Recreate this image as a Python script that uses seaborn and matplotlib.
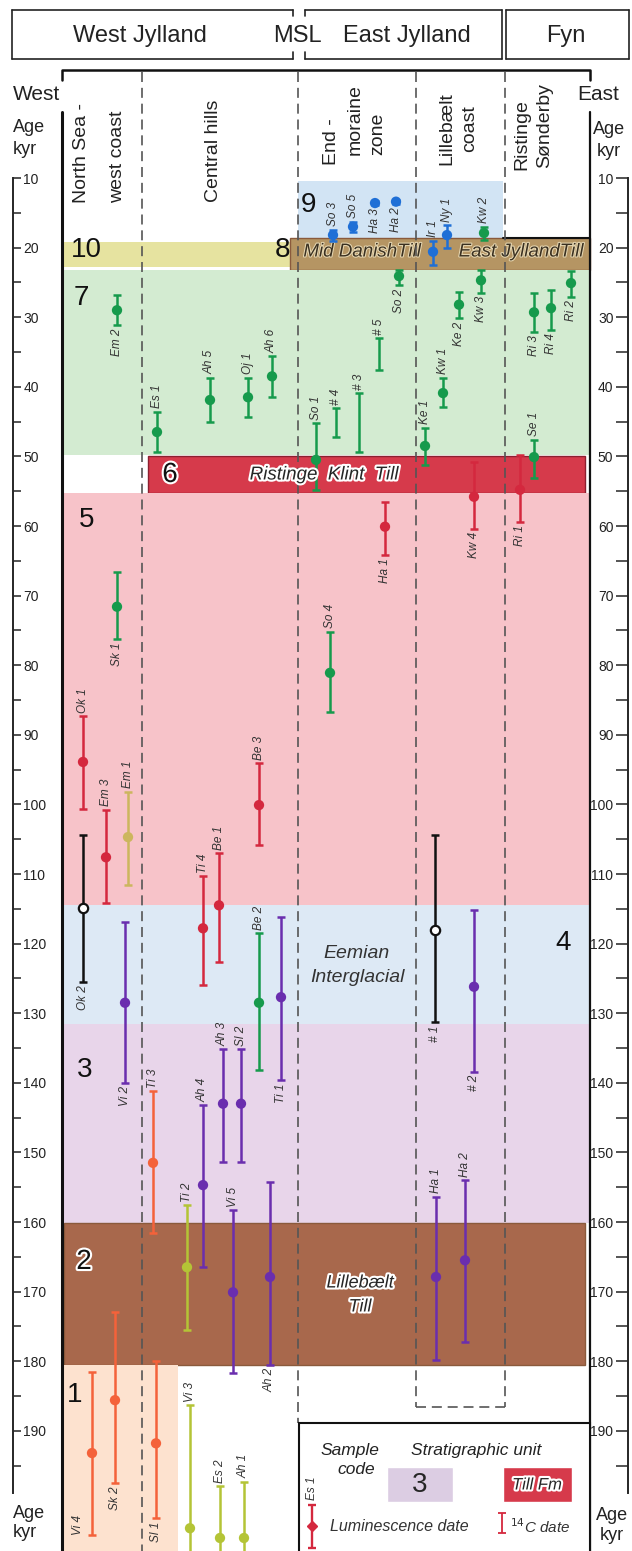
import numpy as np
import pandas as pd
import seaborn as sns
import matplotlib.pyplot as plt
from matplotlib.patches import Rectangle
import matplotlib.patheffects as pe

sns.set_style("white")
plt.rcParams["font.family"] = ["Liberation Sans", "DejaVu Sans"]

W, H = 632, 1551


def yv(py):
    # pixel row of the sheet -> age value on the shared vertical axis (kyr)
    return 10 + (py - 178) / 6.96


# --- Samples (code, transect position, age, error range) ---
codes = ["So 3", "So 5", "Ha 3", "Ha 2", "Ir 1", "Ny 1", "Kw 2",
         "Em 2", "Es 1", "Ah 5", "Oj 1", "Ah 6", "So 1", "# 4", "# 3", "# 5",
         "So 2", "Ke 1", "Kw 1", "Ke 2", "Kw 3", "Ri 3", "Ri 4", "Ri 2", "Se 1",
         "Ha 1", "Kw 4", "Ri 1", "Sk 1", "So 4", "Ok 1", "Em 3", "Em 1", "Ok 2",
         "Vi 2", "Ti 4", "Be 1", "Be 3", "Be 2", "Ti 1", "# 1", "# 2",
         "Ti 3", "Ah 4", "Ah 3", "Sl 2", "Ti 2", "Vi 5", "Ah 2", "Ha 1", "Ha 2",
         "Vi 4", "Sk 2", "Sl 1", "Vi 3", "Es 2", "Ah 1"]
xpos = [333, 353, 375, 396, 433, 447, 484,
        117, 157, 210, 248, 272, 316, 336, 359, 379,
        399, 425, 443, 459, 481, 534, 551, 571, 534,
        385, 474, 520, 117, 330, 83, 106, 128, 83,
        125, 203, 219, 259, 259, 281, 435, 474,
        153, 203, 223, 241, 187, 233, 270, 436, 465,
        92, 115, 156, 190, 220, 244]
age = [18.2, 17.0, 13.6, 13.4, 20.6, 18.2, 17.9,
       29.0, 46.5, 41.9, 41.5, 38.5, 50.5, np.nan, np.nan, np.nan,
       24.1, 48.5, 40.9, 28.2, 24.7, 29.3, 28.7, 25.1, 50.1,
       60.1, 55.8, 54.8, 71.6, 81.1, 93.9, 107.6, 104.7, 114.9,
       128.5, 117.8, 114.5, 100.1, 128.5, 127.7, 118.1, 126.2,
       151.5, 154.7, 143.0, 143.0, 166.5, 170.1, 167.9, 167.9, 165.5,
       193.2, 185.6, 191.8, 204.0, 205.4, 205.4]
age_min = [17.4, 16.3, 13.3, 13.1, 19.0, 16.8, 17.0,
           26.8, 43.6, 38.7, 38.7, 35.6, 45.2, 43.1, 40.9, 33.0,
           23.2, 45.9, 38.7, 26.4, 23.2, 26.5, 26.1, 23.3, 47.6,
           56.5, 50.8, 49.8, 66.6, 75.2, 87.3, 100.8, 98.2, 104.4,
           116.9, 110.3, 107.0, 94.1, 118.5, 116.2, 104.4, 115.2,
           141.2, 143.2, 135.2, 135.2, 157.6, 158.3, 154.2, 156.4, 154.0,
           181.5, 173.0, 180.0, 186.3, 198.0, 197.3]
age_max = [19.0, 17.8, 13.9, 13.7, 22.5, 20.0, 18.9,
           31.1, 49.4, 45.0, 44.3, 41.5, 54.8, 47.2, 49.4, 37.6,
           25.4, 51.2, 42.9, 30.1, 26.5, 32.1, 31.8, 27.1, 53.1,
           64.2, 60.4, 59.4, 76.2, 86.7, 100.7, 114.2, 111.6, 125.5,
           140.0, 125.9, 122.6, 105.8, 138.2, 139.6, 131.3, 138.4,
           161.6, 166.5, 151.4, 151.4, 175.5, 181.7, 180.5, 179.8, 177.2,
           205.0, 197.5, 202.5, 209.0, 209.0, 209.0]
group = (["blue"] * 6 + ["green"] * 19 +
         ["red", "red", "red", "green", "green", "red", "red", "khaki", "black",
          "purple", "red", "red", "red", "green", "purple", "black", "purple",
          "orange", "purple", "purple", "purple", "lime", "purple", "purple", "purple", "purple",
          "orange", "orange", "orange", "lime", "lime", "lime"])
method = ["lum"] * 13 + ["14c"] * 3 + ["lum"] * 17 + ["open"] + ["lum"] * 6 + ["open"] + ["lum"] * 16
side = ["above", "above", "below", "below", "above", "above", "above",
        "below", "above", "above", "above", "above", "above", "above", "above", "above",
        "below", "above", "above", "below", "below", "below", "below", "below", "above",
        "below", "below", "below", "below", "above", "above", "above", "above", "below",
        "below", "above", "above", "above", "above", "below", "below", "below",
        "above", "above", "above", "above", "above", "above", "below", "above", "above",
        "left", "below", "below", "above", "above", "above"]

palette = {"blue": "#1f6fd6", "green": "#169a4c", "red": "#d4283e", "orange": "#f4623a",
           "lime": "#b4c436", "khaki": "#ccb65e", "purple": "#6a2eae", "black": "#111111"}

df = pd.DataFrame({"code": codes, "x": xpos, "age": age, "amin": age_min, "amax": age_max,
                   "group": group, "method": method, "side": side})

# --- Stratigraphic units ---
units = ["9", "10", "8", "7", "6", "5", "4", "3", "2", "1"]
unit_top = [10.5, 19.2, 18.6, 23.2, 50.0, 55.2, 114.5, 131.5, 160.1, 180.5]
unit_bot = [18.6, 22.8, 23.2, 49.8, 55.2, 114.5, 131.5, 160.1, 180.5, 207.5]
unit_colour = ["#d2e4f4", "#e6e3a0", "#b59563", "#d3ebd1", "#d63a4b",
               "#f7c3c9", "#dde9f5", "#e8d5ea", "#a8684c", "#fde2cf"]
unit_extent = [(298, 503), (62, 290), (290, 590), (62, 590), (148, 585),
               (62, 590), (62, 590), (62, 590), (64, 585), (62, 178)]
unit_label_pos = [(308, 205), (86, 250), (283, 250), (81, 298), (170, 475),
                  (87, 520), (563, 943), (85, 1070), (84, 1262), (75, 1395)]

fig = plt.figure(figsize=(W / 100, H / 100), dpi=100)
ax = fig.add_axes([0, 0, 1, 1])

halo = [pe.withStroke(linewidth=3, foreground="white")]

for u, t, b, c, (x0, x1) in zip(units, unit_top, unit_bot, unit_colour, unit_extent):
    edge = "#8c2030" if u == "6" else ("#8a5a3c" if u in ("2", "8") else "none")
    ax.add_patch(Rectangle((x0, t), x1 - x0, b - t, facecolor=c, edgecolor=edge,
                           lw=1, zorder=0))
for u, (lx, ly) in zip(units, unit_label_pos):
    ax.text(lx, yv(ly), u, fontsize=20, ha="center", va="center", color="#111",
            path_effects=halo if u in ("2", "6") else None, zorder=6)

ax.plot([503, 590], [unit_top[2], unit_top[2]], color="#111", lw=1.5, zorder=1)

# unit names
ax.text(324, yv(475), "Ristinge  Klint  Till", style="italic", fontsize=13.5,
        ha="center", va="center", path_effects=halo, zorder=6)
ax.text(357, yv(953), "Eemian", style="italic", fontsize=14, ha="center", va="center", color="#333")
ax.text(357, yv(977), "Interglacial", style="italic", fontsize=14, ha="center", va="center", color="#333")
ax.text(360, yv(1283), "Lillebælt", style="italic", fontsize=13, ha="center", va="center",
        path_effects=halo, zorder=6)
ax.text(360, yv(1307), "Till", style="italic", fontsize=13, ha="center", va="center",
        path_effects=halo, zorder=6)
tan_halo = [pe.withStroke(linewidth=1.5, foreground="#e6d7b2")]
ax.text(362, yv(252), "Mid DanishTill", style="italic", fontsize=13.5, ha="center",
        va="center", color="#3a3020", path_effects=tan_halo, zorder=2)
ax.text(521, yv(252), "East JyllandTill", style="italic", fontsize=13.5, ha="center",
        va="center", color="#3a3020", path_effects=tan_halo, zorder=2)

# column dividers
dash = (0, (6, 3.5))
for cx, end in [(142, H), (298, 1423), (416, 1407), (505, 1407)]:
    ax.plot([cx, cx], [yv(72), yv(end)], color="#555", lw=1.2, ls=dash, zorder=2)
ax.plot([416, 505], [yv(1407), yv(1407)], color="#555", lw=1.2, ls=dash, zorder=2)

# panel frame and bracket
ax.plot([62, 62, 590, 590], [yv(80), yv(70), yv(70), yv(80)], color="#111", lw=1.8)
ax.plot([62, 62], [yv(112), yv(H)], color="#111", lw=2.2, zorder=5)
ax.plot([590, 590], [yv(112), yv(H)], color="#111", lw=1.6, zorder=5)

# --- error bars ---
for g, sub in df.groupby("group"):
    mid = (sub["amin"] + sub["amax"]) / 2
    half = (sub["amax"] - sub["amin"]) / 2
    ax.errorbar(sub["x"], mid, yerr=half, fmt="none", ecolor=palette[g],
                elinewidth=1.8, capsize=3.2, capthick=1.8, zorder=3)

lum = df[df["method"] == "lum"]
sns.scatterplot(data=lum, x="x", y="age", hue="group", palette=palette, s=55,
                edgecolor="none", legend=False, ax=ax, zorder=4)
opn = df[df["method"] == "open"]
sns.scatterplot(data=opn, x="x", y="age", s=45, color="white", edgecolor="#111",
                linewidth=1.6, legend=False, ax=ax, zorder=4)

for _, r in df.iterrows():
    kw = dict(rotation=90, fontsize=8.5, style="italic", color="#333", ha="center", zorder=5)
    if r["side"] == "above":
        ax.text(r["x"], r["amin"] - 0.5, r["code"], va="bottom", **kw)
    elif r["side"] == "below":
        ax.text(r["x"], r["amax"] + 0.5, r["code"], va="top", **kw)
    else:
        ax.text(r["x"] - 14, r["amax"], r["code"], va="bottom", **kw)

# --- legend box ---
ax.add_patch(Rectangle((299, yv(1423)), 291, yv(H + 5) - yv(1423), facecolor="white",
                       edgecolor="#111", lw=1.5, zorder=5))
ax.text(350, yv(1450), "Sample", style="italic", fontsize=12.5, ha="center", va="center", color="#222", zorder=6)
ax.text(356, yv(1470), "code", style="italic", fontsize=12.5, ha="center", va="center", color="#222", zorder=6)
ax.text(476, yv(1450), "Stratigraphic unit", style="italic", fontsize=12.5, ha="center", va="center", color="#222", zorder=6)
ax.add_patch(Rectangle((387, yv(1467)), 66, yv(1502) - yv(1467), facecolor="#dccde3", zorder=6))
ax.text(420, yv(1485), "3", fontsize=20, ha="center", va="center", zorder=7)
ax.add_patch(Rectangle((503, yv(1467)), 69, yv(1502) - yv(1467), facecolor="#d63a4b", zorder=6))
ax.text(537, yv(1485), "Till Fm", style="italic", fontsize=12, ha="center", va="center",
        path_effects=halo, zorder=7)
ax.errorbar([312], [yv(1526)], yerr=[[yv(1526) - yv(1505)], [yv(1548) - yv(1526)]], fmt="D",
            color=palette["red"], ms=5, elinewidth=1.7, capsize=3, capthick=1.7, zorder=7)
ax.text(312, yv(1500), "Es 1", rotation=90, fontsize=8.5, style="italic", color="#333",
        ha="center", va="bottom", zorder=7)
ax.text(330, yv(1527), "Luminescence date", style="italic", fontsize=11.5, ha="left",
        va="center", color="#333", zorder=7)
ax.errorbar([502], [yv(1523)], yerr=[[yv(1523) - yv(1513)], [yv(1533) - yv(1523)]], fmt="none",
            ecolor=palette["red"], elinewidth=1.3, capsize=3, capthick=1.3, zorder=7)
ax.text(510, yv(1527), r"$^{14}$C date", style="italic", fontsize=11, ha="left",
        va="center", color="#333", zorder=7)

# --- header ---
for x0, x1, brk_l, brk_r in [(12, 293, False, True), (305, 502, True, False), (506, 629, False, False)]:
    ax.plot([x0, x1], [yv(10), yv(10)], color="#222", lw=1.2)
    ax.plot([x0, x1], [yv(59), yv(59)], color="#222", lw=1.2)
    for xe, brk in [(x0, brk_l), (x1, brk_r)]:
        if brk:
            ax.plot([xe, xe], [yv(10), yv(16)], color="#222", lw=1.2)
            ax.plot([xe, xe], [yv(52), yv(59)], color="#222", lw=1.2)
        else:
            ax.plot([xe, xe], [yv(10), yv(59)], color="#222", lw=1.2)
for txt, cx in [("West Jylland", 140), ("MSL", 297), ("East Jylland", 407), ("Fyn", 566)]:
    ax.text(cx, yv(36), txt, fontsize=17, ha="center", va="center", color="#222")

ax.text(13, yv(94), "West", fontsize=15, ha="left", va="center", color="#222")
ax.text(577, yv(94), "East", fontsize=15, ha="left", va="center", color="#222")
for tx, ha, ys in [(13, "left", (128, 150)), (609, "center", (130, 152)),
                   (13, "left", (1513, 1533)), (612, "center", (1515, 1535))]:
    ax.text(tx, yv(ys[0]), "Age", fontsize=13, ha=ha, va="center", color="#222")
    ax.text(tx, yv(ys[1]), "kyr", fontsize=13, ha=ha, va="center", color="#222")

col_heads = [("North Sea -", 82, 203), ("west coast", 118, 203), ("Central hills", 213, 202),
             ("End -", 332, 165), ("moraine", 355, 155), ("zone", 378, 155),
             ("Lillebælt", 447, 165), ("coast", 470, 152),
             ("Ristinge", 522, 170), ("Sønderby", 545, 168)]
for txt, cx, by in col_heads:
    ax.text(cx, yv(by), txt, rotation=90, fontsize=14, ha="center", va="bottom", color="#222")

ax.set_xlim(0, W)
ax.set_ylim(yv(H), yv(0))
ax.axis("off")

# --- age scales ---
ticks_major = np.arange(10, 200, 10)
ticks_minor = np.arange(15, 200, 10)

axl = fig.add_axes([0, 0, 13 / W, 1], facecolor="none")
axr = fig.add_axes([628 / W, 0, 4 / W, 1], facecolor="none")
for a, keep, tlen in [(axl, "right", 6), (axr, "left", 9)]:
    a.set_ylim(yv(H), yv(0))
    for s in a.spines.values():
        s.set_visible(False)
    a.spines[keep].set_visible(True)
    a.spines[keep].set_bounds(10, 199)
    a.spines[keep].set_linewidth(1.4)
    a.set_xticks([])
    a.set_yticks(ticks_major)
    a.set_yticks(ticks_minor, minor=True)
    a.yaxis.set_ticks_position(keep)
    a.tick_params(axis="y", which="major", direction="out", length=tlen, width=1.1,
                  labelsize=10, pad=1.5, colors="#222")
    a.tick_params(axis="y", which="minor", direction="out", length=tlen, width=1.1)

fig.savefig("out.png", dpi=100)
